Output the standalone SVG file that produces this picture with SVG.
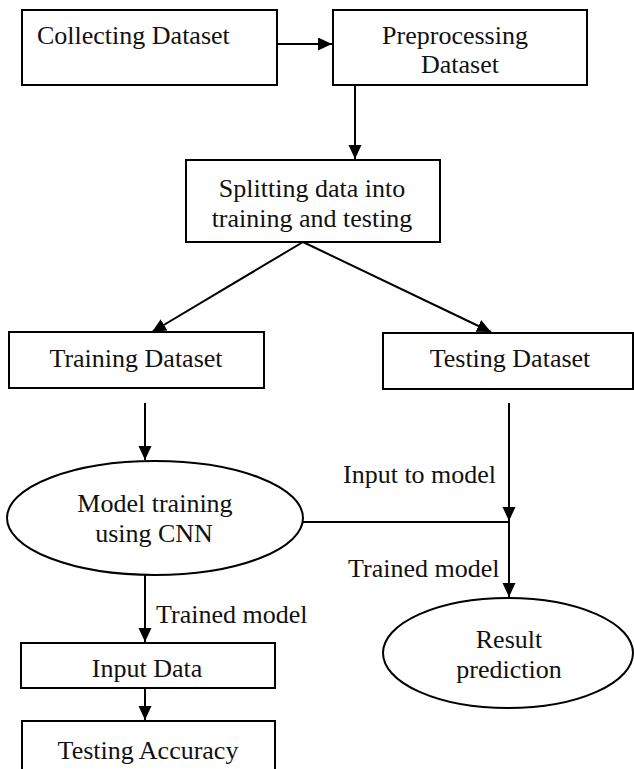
<svg xmlns="http://www.w3.org/2000/svg" width="634" height="769" viewBox="0 0 634 769">
<style>
.box{fill:#fff;stroke:#000;stroke-width:2}
.t{font-family:"Liberation Serif","Times New Roman",serif;font-size:26px;fill:#111}
.c{text-anchor:middle}
.ln{fill:none;stroke:#000;stroke-width:2}
</style>
<defs>
<marker id="ah" markerUnits="userSpaceOnUse" markerWidth="16" markerHeight="14" refX="14" refY="6.5" orient="auto">
<path d="M0,0 L14,6.5 L0,13 z" fill="#000"/>
</marker>
</defs>
<rect width="634" height="769" fill="#fff"/>
<g id="connectors">
<line class="ln" x1="277" y1="44" x2="332" y2="44" marker-end="url(#ah)"/>
<line class="ln" x1="355" y1="85" x2="355" y2="159" marker-end="url(#ah)"/>
<line class="ln" x1="303" y1="242" x2="152" y2="332" marker-end="url(#ah)"/>
<line class="ln" x1="303" y1="242" x2="491" y2="332" marker-end="url(#ah)"/>
<line class="ln" x1="145" y1="403" x2="145" y2="460" marker-end="url(#ah)"/>
<line class="ln" x1="509" y1="403" x2="509" y2="521" marker-end="url(#ah)"/>
<line class="ln" x1="303" y1="522" x2="509" y2="522"/>
<line class="ln" x1="509" y1="521" x2="509" y2="597" marker-end="url(#ah)"/>
<line class="ln" x1="145" y1="575" x2="145" y2="642" marker-end="url(#ah)"/>
<line class="ln" x1="145" y1="688" x2="145" y2="720" marker-end="url(#ah)"/>
<text class="t" x="343" y="483">Input to model</text>
<text class="t" x="348" y="577">Trained model</text>
<text class="t" x="156" y="623">Trained model</text>
</g>
<g id="collecting">
<rect class="box" x="22" y="10" width="255" height="75"/>
<text class="t" x="37" y="44">Collecting Dataset</text>
</g>
<g id="preprocessing">
<rect class="box" x="333" y="10" width="254" height="75"/>
<text class="t c" x="455" y="44">Preprocessing</text>
<text class="t c" x="460" y="73">Dataset</text>
</g>
<g id="splitting">
<rect class="box" x="186" y="160" width="254" height="82"/>
<text class="t c" x="312" y="197">Splitting data into</text>
<text class="t c" x="312" y="227">training and testing</text>
</g>
<g id="training">
<rect class="box" x="9" y="332" width="255" height="56"/>
<text class="t c" x="136" y="367">Training Dataset</text>
</g>
<g id="testing">
<rect class="box" x="383" y="333" width="250" height="56"/>
<text class="t c" x="510" y="367">Testing Dataset</text>
</g>
<g id="model">
<ellipse class="box" cx="155" cy="518" rx="148" ry="57"/>
<text class="t c" x="155" y="512">Model training</text>
<text class="t c" x="154" y="542">using CNN</text>
</g>
<g id="result">
<ellipse class="box" cx="508" cy="653" rx="125" ry="55"/>
<text class="t c" x="509" y="648">Result</text>
<text class="t c" x="509" y="678">prediction</text>
</g>
<g id="input">
<rect class="box" x="21" y="643" width="254" height="45"/>
<text class="t c" x="147" y="677">Input Data</text>
</g>
<g id="accuracy">
<rect class="box" x="22" y="721" width="253" height="60"/>
<text class="t c" x="148" y="759">Testing Accuracy</text>
</g>
</svg>
